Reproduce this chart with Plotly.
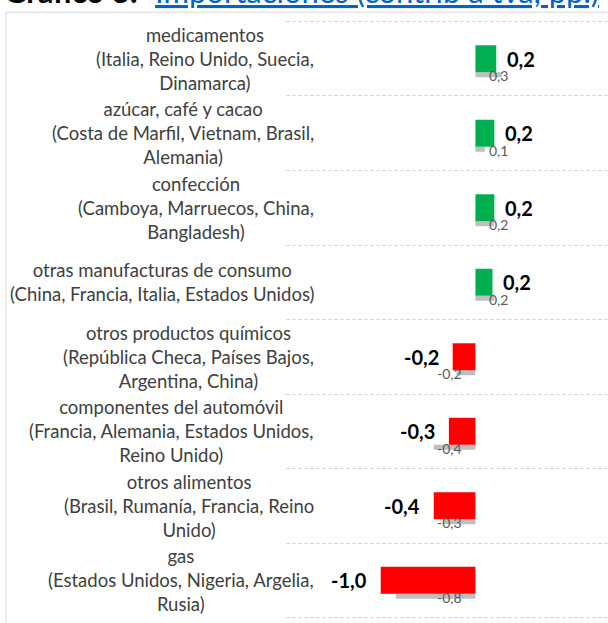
import plotly.graph_objects as go

# ---- data ----
label_lines = [
    ["medicamentos", "(Italia, Reino Unido, Suecia,", "Dinamarca)"],
    ["azúcar, café y cacao", "(Costa de Marfil, Vietnam, Brasil,", "Alemania)"],
    ["confección", "(Camboya, Marruecos, China,", "Bangladesh)"],
    ["otras manufacturas de consumo", "(China, Francia, Italia, Estados Unidos)"],
    ["otros productos químicos", "(República Checa, Países Bajos,", "Argentina, China)"],
    ["componentes del automóvil", "(Francia, Alemania, Estados Unidos,", "Reino Unido)"],
    ["otros alimentos", "(Brasil, Rumanía, Francia, Reino", "Unido)"],
    ["gas", "(Estados Unidos, Nigeria, Argelia,", "Rusia)"],
]
current = [0.22, 0.20, 0.20, 0.18, -0.24, -0.28, -0.44, -1.00]
previous = [0.28, 0.10, 0.20, 0.20, -0.20, -0.44, -0.34, -0.84]
current_labels = ["0,2", "0,2", "0,2", "0,2", "-0,2", "-0,3", "-0,4", "-1,0"]
previous_labels = ["0,3", "0,1", "0,2", "0,2", "-0,2", "-0,4", "-0,3", "-0,8"]

title_main = "Gráfico 3:"
title_link = "Importaciones (contrib a tva, pp.)"

# ---- layout constants ----
W, H = 608, 623
ML, MR, MT, MB = 285.5, 0, 19.5, 3.5
plot_w = W - ML - MR
plot_h = H - MT - MB
FONT = "Lato, Carlito, Calibri, sans-serif"

rows = list(range(len(current)))
colors = ["#00b050" if v >= 0 else "#ff0000" for v in current]

fig = go.Figure()
fig.add_trace(go.Bar(
    x=previous, y=rows, orientation="h",
    marker=dict(color="#bfbfbf", line=dict(width=0)),
    width=0.067, offset=0.181, hoverinfo="skip", showlegend=False,
))
fig.add_trace(go.Bar(
    x=current, y=rows, orientation="h",
    marker=dict(color=colors, line=dict(width=0)),
    width=0.362, offset=-0.181, hoverinfo="skip", showlegend=False,
))

ann = []
label_right_px = 316
for r, lines in zip(rows, label_lines):
    ann.append(dict(
        x=(label_right_px - ML) / plot_w, xref="paper", y=r, yref="y",
        text="<br>".join(lines), showarrow=False, xanchor="right", yanchor="middle",
        align="center", font=dict(family=FONT, size=18.5, color="#404040"),
    ))
for r, v, t in zip(rows, current, current_labels):
    ann.append(dict(
        x=v, y=r, xref="x", yref="y", text=f"<b>{t}</b>", showarrow=False,
        xanchor="left" if v >= 0 else "right",
        xshift=9 if v >= 0 else -12, yshift=0,
        font=dict(family=FONT, size=20, color="#000000"),
    ))
for r, v, t in zip(rows, previous, previous_labels):
    ann.append(dict(
        x=0, y=r, xref="x", yref="y", text=t, showarrow=False,
        xanchor="left" if v >= 0 else "right",
        xshift=12 if v >= 0 else -11, yshift=-17,
        font=dict(family=FONT, size=14, color="#595959"),
    ))
# cut-off title at the very top
title_y = (H - MB - 11) / plot_h
ann.append(dict(
    x=(1 - ML) / plot_w, xref="paper", y=title_y, yref="paper",
    xanchor="left", yanchor="bottom", showarrow=False,
    text=f"<b>{title_main}</b>",
    font=dict(family=FONT, size=31, color="#000000"),
))
ann.append(dict(
    x=(152 - ML) / plot_w, xref="paper", y=title_y, yref="paper",
    xanchor="left", yanchor="bottom", showarrow=False,
    text=f"<u>{title_link}</u>",
    font=dict(family=FONT, size=31, color="#0563c1"),
))

fig.update_layout(
    width=W, height=H,
    margin=dict(l=ML, r=MR, t=MT, b=MB, pad=0),
    paper_bgcolor="white", plot_bgcolor="white",
    barmode="overlay",
    annotations=ann,
    shapes=[dict(
        type="rect", xref="paper", yref="paper",
        x0=(5 - ML) / plot_w, x1=1.2,
        y0=-0.2, y1=(H - MB - 11.7) / plot_h,
        line=dict(color="#d9d9d9", width=1), fillcolor="rgba(0,0,0,0)", layer="below",
    )],
    xaxis=dict(range=[-2.0, 1.4], showgrid=False, zeroline=False,
               showticklabels=False, showline=False, fixedrange=True),
    yaxis=dict(range=[7.52, -0.52], tickvals=rows, showticklabels=False,
               showgrid=False, zeroline=False, showline=False, ticks="",
               fixedrange=True,
               minor=dict(tickvals=[i + 0.5 for i in range(-1, len(rows))],
                          showgrid=True, gridcolor="#d9d9d9", gridwidth=1,
                          griddash="4px,2px", ticks="")),
    font=dict(family=FONT),
)

fig.write_html("out.html", config={"displayModeBar": False, "staticPlot": True},
               post_script="document.body.style.margin='0';")
